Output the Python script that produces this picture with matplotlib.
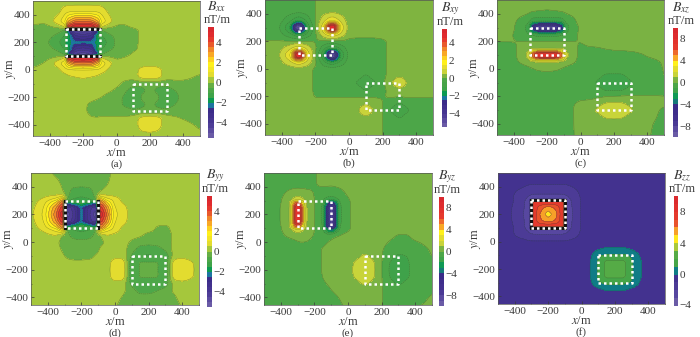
import matplotlib
matplotlib.use("Agg")
import matplotlib.pyplot as plt
import numpy as np

plt.rcParams["font.family"] = ["Liberation Serif", "DejaVu Serif"]
plt.rcParams["mathtext.fontset"] = "stix"

# grid nodes in metres (closer together at the source edges)
x_nodes = [-500, -425, -350, -310, -290, -250, -200, -150, -110, -90, -50, 0, 50, 100, 150, 200, 250, 300, 350, 400, 500]
y_nodes = [500, 425, 350, 310, 290, 250, 200, 150, 110, 90, 50, 0, -50, -100, -150, -200, -250, -300, -350, -400, -500]

bxx = [
    [.2, .2, .2, .2, .2, .2, .2, .2, .2, .2, .2, .2, .2, .2, .2, .2, .2, .2, .2, .2, .2],
    [.2, .2, .3, .8, .9, .95, .95, .95, .9, .8, .4, .2, .2, .2, .2, .2, .2, .2, .2, .2, .2],
    [.2, .1, .8, 1.5, 2.5, 3.4, 3.5, 3.4, 2.5, 1.5, .8, .15, .1, .2, .2, .2, .2, .2, .2, .2, .2],
    [-.2, -.2, .1, .4, 4.5, 5.3, 5.4, 5.3, 4.5, .4, .1, -.1, -.1, .1, .2, .2, .2, .2, .2, .2, .2],
    [-.3, -.3, -.3, -.5, -3, -4.8, -5, -4.8, -3, -.5, -.3, -.3, -.3, -.2, .1, .2, .2, .2, .2, .2, .2],
    [-.3, -.3, -.6, -1, -1.6, -3.5, -3.8, -3.5, -1.6, -1, -.6, -.4, -.3, -.2, .1, .2, .2, .2, .2, .2, .2],
    [-.3, -.4, -.9, -1.5, -1.8, -2.3, -2.4, -2.3, -1.8, -1.5, -.9, -.4, -.3, -.15, .1, .2, .2, .2, .2, .2, .2],
    [-.3, -.3, -.6, -1, -1.6, -3.5, -3.8, -3.5, -1.6, -1, -.6, -.4, -.3, -.1, .1, .2, .2, .2, .2, .2, .2],
    [-.3, -.3, -.3, -.5, -3, -4.8, -5, -4.8, -3, -.5, -.3, -.3, -.2, .1, .2, .2, .2, .2, .2, .2, .2],
    [-.3, -.2, .1, .4, 4.5, 5.3, 5.4, 5.3, 4.5, .4, .1, -.1, .05, .2, .2, .2, .2, .2, .2, .2, .2],
    [-.2, .05, .8, 1.5, 2.5, 3.4, 3.5, 3.4, 2.5, 1.5, .8, .15, .2, .2, .2, .2, .2, .2, .2, .2, .2],
    [.1, .2, .3, .8, .9, .95, .95, .95, .9, .8, .4, .2, .2, .2, .7, .85, .7, .2, .2, .2, .2],
    [.2, .2, .2, .2, .4, .5, .6, .5, .4, .2, .2, .2, .2, .2, .75, .9, .75, .2, .2, .2, -.1],
    [.2, .2, .2, .2, .2, .2, .2, .2, .2, .2, .2, .15, -.15, -.3, -.4, -.4, -.4, -.3, -.2, -.2, -.3],
    [.2, .2, .2, .2, .2, .2, .2, .2, .2, .2, .1, -.1, -.4, -.8, -.6, -.4, -.6, -.8, -.5, -.3, -.3],
    [.2, .2, .2, .2, .2, .2, .2, .15, .05, 0, -.2, -.3, -.6, -1.1, -.4, -.4, -.4, -1.1, -.7, -.3, -.3],
    [.2, .2, .2, .2, .2, .2, .1, -.1, -.2, -.25, -.3, -.3, -.6, -.8, -.6, -.4, -.6, -.8, -.5, -.3, -.3],
    [.2, .2, .2, .2, .2, .2, .15, -.2, -.3, -.3, -.3, -.3, -.3, -.4, -.4, -.4, -.4, -.3, -.3, -.3, -.3],
    [.2, .2, .2, .2, .2, .2, .2, .05, .05, .1, .1, .1, .1, .2, .7, .9, .7, .2, .1, -.05, -.3],
    [.2, .2, .2, .2, .2, .2, .2, .2, .2, .2, .2, .2, .2, .2, .75, .85, .7, .2, .2, .2, -.1],
    [.2, .2, .2, .2, .2, .2, .2, .2, .2, .2, .2, .2, .2, .2, .2, .2, .2, .2, .2, .2, .2],
]

bxy = [
    [-.2, -.2, -.2, -.2, -.2, -.2, 0, .2, .2, .2, .2, .2, .2, .2, .2, .2, .2, .2, .2, .2, .2],
    [-.2, -.2, -.2, -.2, -.2, -.2, 0, .2, .2, .2, .2, .2, .2, .2, .2, .2, .2, .2, .2, .2, .2],
    [-.2, -.2, -.9, -1.5, -1.5, -.9, 0, .9, 1.5, 1.5, .9, .2, .2, .2, .2, .2, .2, .2, .2, .2, .2],
    [-.2, -.3, -1.5, -5, -5, -1.5, 0, 1.5, 5, 5, 1.5, .2, .2, .2, .2, .2, .2, .2, .2, .2, .2],
    [-.2, -.3, -1.5, -5, -5, -1.5, 0, 1.5, 5, 5, 1.5, .2, .2, .2, .2, .2, .2, .2, .2, .2, .2],
    [-.2, -.2, -.9, -1.5, -1.5, -.9, -.1, .9, 1.5, 1.5, .9, .2, .2, .2, .2, .2, .2, .2, .2, .2, .2],
    [.03, .03, .03, .03, .03, .03, -.05, -.1, -.1, -.1, -.1, -.15, -.2, -.2, -.2, -.1, .1, .2, .2, .2, .2],
    [.2, .2, .9, 1.5, 1.5, .9, .1, -.9, -1.5, -1.5, -.9, -.2, -.2, -.2, -.2, -.15, .2, .2, .2, .2, .2],
    [.2, .3, 1.5, 5, 5, 1.5, 0, -1.5, -5, -5, -1.5, -.3, -.2, -.2, -.2, -.15, .2, .2, .2, .2, .2],
    [.2, .3, 1.5, 5, 5, 1.5, 0, -1.5, -5, -5, -1.5, -.3, -.2, -.2, -.2, -.15, .2, .2, .2, .2, .2],
    [.2, .2, .9, 1.5, 1.5, .9, .1, -.9, -1.5, -1.5, -.9, -.2, -.2, -.2, -.2, -.15, .2, .2, .2, .2, .2],
    [.2, .2, .2, .2, .2, .2, -.1, -.2, -.2, -.2, -.2, -.2, -.2, -.2, -.2, -.15, .2, .2, .2, .2, .2],
    [.2, .2, .2, .2, .2, .2, -.1, -.2, -.2, -.2, -.2, -.2, -.2, -.6, -.2, -.15, .2, .4, .2, .2, .2],
    [.2, .2, .2, .2, .2, .2, -.1, -.2, -.2, -.2, -.2, -.2, -.6, -1, -.6, -.1, .4, 1.1, .4, .2, .2],
    [.2, .2, .2, .2, .2, .2, -.1, -.2, -.2, -.2, -.2, -.2, -.2, -.6, -.2, -.15, .2, .4, .2, .2, .2],
    [.2, .2, .2, .2, .2, .2, -.05, -.05, -.05, -.05, -.05, -.05, -.05, -.05, -.05, -.02, .05, .05, .05, .05, .05],
    [.2, .2, .2, .2, .2, .2, .2, .2, .2, .2, .2, .2, .2, .4, .2, 0, -.2, -.6, -.2, -.2, -.2],
    [.2, .2, .2, .2, .2, .2, .2, .2, .2, .2, .2, .2, .4, 1.1, .4, 0, -.6, -1, -.6, -.2, -.2],
    [.2, .2, .2, .2, .2, .2, .2, .2, .2, .2, .2, .2, .2, .4, .2, 0, -.2, -.6, -.2, -.2, -.2],
    [.2, .2, .2, .2, .2, .2, .2, .2, .2, .2, .2, .2, .2, .2, .2, 0, -.2, -.2, -.2, -.2, -.2],
    [.2, .2, .2, .2, .2, .2, .2, .2, .2, .2, .2, .2, .2, .2, .2, 0, -.2, -.2, -.2, -.2, -.2],
]

bxz = [
    [.5, .5, .5, .5, .5, .5, .5, .5, .5, .5, .5, .5, .5, .5, .5, .5, .5, .5, .5, .5, .5],
    [.5, .5, .5, .3, .2, .1, 0, .1, .2, .3, .5, .5, .5, .5, .5, .5, .5, .5, .5, .5, .5],
    [.5, .5, -.4, -.7, -1.5, -1.5, -1.5, -1.5, -1.5, -.8, -.4, .5, .5, .5, .5, .5, .5, .5, .5, .5, .5],
    [.5, .4, -.6, -1.5, -5, -8, -8, -8, -5, -1.5, -.6, .2, .5, .5, .5, .5, .5, .5, .5, .5, .5],
    [.5, .4, -.6, -1.5, -5, -8, -8, -8, -5, -1.5, -.6, .2, .5, .5, .5, .5, .5, .5, .5, .5, .5],
    [.4, .2, -.6, -1, -1.2, -1.5, -1.5, -1.5, -1.2, -1, -.6, .3, .5, .5, .5, .5, .5, .5, .5, .5, .5],
    [.05, .05, 0, -.02, -.02, -.02, -.02, -.02, -.02, -.02, 0, .02, .3, .5, .5, .5, .5, .5, .5, .5, .5],
    [-.5, -.4, .3, .6, .7, .8, .8, .8, .7, .6, .4, -.2, -.1, -.1, .1, .3, .4, .5, .5, .5, .5],
    [-.5, -.5, .4, 1.5, 5, 8, 8, 8, 5, 1.5, .5, -.3, -.5, -.5, -.5, -.5, -.5, -.4, -.1, .05, .3],
    [-.5, -.5, .4, 1.5, 5, 8, 8, 8, 5, 1.5, .5, -.3, -.5, -.5, -.5, -.5, -.5, -.4, -.1, .05, .3],
    [-.5, -.5, .2, .6, .8, .9, .9, .9, .8, .6, .2, -.3, -.5, -.5, -.5, -.5, -.5, -.5, -.5, -.4, .1],
    [-.5, -.5, -.5, -.3, -.1, .2, .3, .2, -.1, -.3, -.5, -.5, -.5, -.5, -.5, -.5, -.5, -.5, -.5, -.5, .05],
    [-.5, -.5, -.5, -.5, -.5, -.5, -.5, -.5, -.5, -.5, -.5, -.5, -.5, -.6, -1.2, -1.2, -1.2, -.6, -.5, -.5, .02],
    [-.5, -.5, -.5, -.5, -.5, -.5, -.5, -.5, -.5, -.5, -.5, -.5, -.5, -1.2, -1.8, -1.8, -1.8, -1.2, -.5, -.5, -.5],
    [-.5, -.5, -.5, -.5, -.5, -.5, -.5, -.5, -.5, -.5, -.5, -.5, -.5, -.6, -1.2, -1.2, -1.2, -.6, -.5, -.5, -.5],
    [-.5, -.5, -.5, -.5, -.5, -.5, -.5, -.5, -.5, -.5, -.5, -.3, -.4, -.2, -.05, .05, .1, .1, .1, .1, .05],
    [-.5, -.5, -.5, -.5, -.5, -.5, -.5, -.5, -.5, -.5, -.1, .2, .4, .6, 1.1, 1.2, 1.1, .7, .5, .5, .2],
    [-.5, -.5, -.5, -.5, -.5, -.5, -.5, -.5, -.5, -.5, -.05, .4, .6, 1.2, 1.8, 1.8, 1.8, 1.2, .6, .5, -.2],
    [-.5, -.5, -.5, -.5, -.5, -.5, -.5, -.5, -.5, -.5, -.1, .4, .5, .6, 1.1, 1.2, 1.1, .6, .5, .4, -.3],
    [-.5, -.5, -.5, -.5, -.5, -.5, -.5, -.5, -.5, -.5, -.1, .4, .5, .5, .5, .5, .5, .5, .5, .2, -.4],
    [-.5, -.5, -.5, -.5, -.5, -.5, -.5, -.5, -.5, -.5, -.1, .3, .5, .5, .5, .5, .5, .5, .5, .1, -.5],
]

byy = [
    [.2, .2, -.1, -.3, -.3, -.3, -.3, -.3, -.3, -.3, -.2, .2, .2, .2, .2, .2, .2, .2, .2, .2, .2],
    [.2, .2, .15, -.1, -.3, -.3, -.3, -.3, -.3, -.3, -.05, .2, .2, .2, .2, .2, .2, .2, .2, .2, .2],
    [.2, .2, .2, .1, -.2, -.8, -.9, -.8, -.2, .1, .2, .2, .2, .2, .2, .2, .2, .2, .2, .2, .2],
    [.2, .6, 1.3, 2.5, -.4, -1, -1.1, -1, -.4, 2.5, 1.3, .8, .3, .2, .2, .2, .2, .2, .2, .2, .2],
    [.2, .8, 2, 3.5, -2.2, -1.5, -1.2, -1.5, -2.2, 3.5, 2, .8, .4, .2, .2, .2, .2, .2, .2, .2, .2],
    [.3, 1, 3, 4.5, -4.5, -3.8, -2.4, -3.8, -4.5, 4.5, 3, 1, .7, .2, .2, .2, .2, .2, .2, .2, .2],
    [.4, 1.1, 3.5, 5.3, -5, -4, -2.3, -4, -5, 5.3, 3.5, 1.1, .8, .2, .2, .2, .2, .2, .2, .2, .2],
    [.3, 1, 3, 4.5, -4.5, -3.8, -2.4, -3.8, -4.5, 4.5, 3, 1, .7, .2, .2, .2, .2, .2, .2, .2, .2],
    [.2, .8, 2, 3.5, -2.2, -1.5, -1.2, -1.5, -2.2, 3.5, 2, .8, .4, .2, .2, .2, -.05, -.1, .1, .2, .2],
    [.2, .6, 1.3, 2.5, -.4, -1, -1.1, -1, -.4, 2.5, 1.3, .8, .3, .2, .2, .2, -.05, -.1, .1, .2, .2],
    [.2, .3, .5, -.1, -.3, -.7, -.9, -.7, -.3, -.1, .5, .3, .2, .2, .1, -.2, -.3, -.3, .1, .2, .2],
    [.2, .2, .1, -.2, -.3, -.3, -.3, -.3, -.3, -.2, .1, .2, .2, -.1, -.3, -.3, -.3, -.2, .1, .2, .2],
    [.2, .2, .2, -.1, -.3, -.3, -.3, -.3, -.3, .1, .2, .2, .2, -.3, -.7, -.8, -.7, -.4, .15, .2, .2],
    [.2, .2, .2, .1, -.1, -.3, -.3, -.2, .1, .2, .2, .3, .3, -.6, -1, -1.1, -1, -.9, .2, .3, .2],
    [.2, .2, .2, .2, .2, .2, .2, .2, .2, .2, .2, .85, .8, -1, -.4, -.4, -.4, -1, .8, .9, .3],
    [.2, .2, .2, .2, .2, .2, .2, .2, .2, .2, .2, .95, .9, -1.1, -.4, -.4, -.4, -1.1, .9, .98, .3],
    [.2, .2, .2, .2, .2, .2, .2, .2, .2, .2, .2, .85, .8, -1, -.4, -.4, -.4, -1, .8, .9, .3],
    [.2, .2, .2, .2, .2, .2, .2, .2, .2, .2, .2, .3, .2, -.7, -1, -1.1, -1, -.8, .15, .3, .2],
    [.2, .2, .2, .2, .2, .2, .2, .2, .2, .2, .2, .2, .1, -.3, -.7, -.7, -.5, -.3, .1, .2, .2],
    [.2, .2, .2, .2, .2, .2, .2, .2, .2, .2, .2, .15, -.05, -.3, -.3, -.3, -.3, -.3, -.1, .2, .2],
    [.2, .2, .2, .2, .2, .2, .2, .2, .2, .2, .2, 0, -.3, -.3, -.3, -.3, -.3, -.3, -.3, -.05, .2],
]

byz = [
    [-.5, -.5, -.5, -.5, -.5, -.5, -.1, .3, .5, .5, .5, .5, .5, .5, .5, .5, .5, .5, .5, .5, .5],
    [-.5, -.5, -.5, -.5, -.5, -.5, -.1, .3, .2, .2, .4, .5, .5, .5, .5, .5, .5, .5, .5, .5, .5],
    [-.5, -.5, .3, .6, .6, .4, -.05, -.6, -.6, -.6, -.5, .2, .5, .5, .5, .5, .5, .5, .5, .5, .5],
    [-.5, -.4, .6, 1.5, 1.5, .8, 0, -.9, -1.5, -1.5, -.9, -.1, .5, .5, .5, .5, .5, .5, .5, .5, .5],
    [-.5, -.4, .7, 5, 5, .9, 0, -1, -5, -5, -1, -.2, .5, .5, .5, .5, .5, .5, .5, .5, .5],
    [-.5, -.3, .8, 8, 8, 1.2, 0, -1.3, -8, -8, -1.3, -.2, .5, .5, .5, .5, .5, .5, .5, .5, .5],
    [-.5, -.3, .8, 8, 8, 1.2, 0, -1.3, -8, -8, -1.3, -.2, .5, .5, .5, .5, .5, .5, .5, .5, .5],
    [-.5, -.3, .8, 8, 8, 1.2, 0, -1.3, -8, -8, -1.3, -.2, .5, .5, .5, .5, .5, .5, .5, .5, .5],
    [-.5, -.4, .7, 5, 5, .9, 0, -1, -8, -8, -1, -.2, .5, .5, .5, .5, .5, .5, .5, .5, .5],
    [-.5, -.4, .6, 1.5, 1.5, .8, 0, -.9, -4, -4, -.9, -.2, .5, .5, .5, .5, .5, .5, .5, .5, .5],
    [-.5, -.5, .3, .6, .6, .4, -.05, -.6, -.6, -.3, 0, .4, .5, .5, .5, .5, .3, -.1, -.1, .4, .5],
    [-.5, -.5, -.5, -.2, 0, 0, -.3, -.3, .1, .3, .5, .5, .5, .5, .5, .3, -.1, -.4, -.4, -.1, .3],
    [-.5, -.5, -.5, -.5, -.5, -.5, -.5, .1, .4, .5, .5, .5, .5, .6, .5, .1, -.4, -.5, -.5, -.4, .1],
    [-.5, -.5, -.5, -.5, -.5, -.5, -.5, .1, .3, .5, .5, .5, .7, 1.2, .7, .05, -.6, -1.2, -1, -.5, .02],
    [-.5, -.5, -.5, -.5, -.5, -.5, -.5, .1, .3, .5, .5, .6, 1.2, 1.7, 1.2, .05, -1.1, -1.8, -1.2, -.5, -.1],
    [-.5, -.5, -.5, -.5, -.5, -.5, -.5, .1, .3, .5, .5, .7, 1.3, 1.8, 1.3, .05, -1.2, -1.8, -1.3, -.5, -.3],
    [-.5, -.5, -.5, -.5, -.5, -.5, -.5, .05, .2, .4, .5, .6, 1.2, 1.7, 1.2, .05, -1.1, -1.8, -1.2, -.5, -.3],
    [-.5, -.5, -.5, -.5, -.5, -.5, -.5, -.1, .1, .3, .5, .5, .7, 1.2, .7, .05, -.6, -1.2, -.7, -.5, -.3],
    [-.5, -.5, -.5, -.5, -.5, -.5, -.5, -.4, -.1, .05, .4, .5, .5, .5, .5, .05, -.5, -.5, -.5, -.5, -.1],
    [-.5, -.5, -.5, -.5, -.5, -.5, -.5, -.5, -.4, -.3, .05, .4, .5, .5, .5, .05, -.5, -.5, -.5, -.4, .1],
    [-.5, -.5, -.5, -.5, -.5, -.5, -.5, -.5, -.5, -.5, -.3, .1, .4, .5, .5, .05, -.5, -.5, -.5, .1, .3],
]

bzz = [
    [-.5, -.5, -.5, -.5, -.5, -.5, -.5, -.5, -.5, -.5, -.5, -.5, -.5, -.5, -.5, -.5, -.5, -.5, -.5, -.5, -.5],
    [-.5, -.5, -.7, -.9, -.9, -.9, -.9, -.9, -.9, -.9, -.7, -.5, -.5, -.5, -.5, -.5, -.5, -.5, -.5, -.5, -.5],
    [-.5, -.8, -1.5, -1.8, -1.9, -1.9, -1.9, -1.9, -1.9, -1.8, -1.5, -.8, -.5, -.5, -.5, -.5, -.5, -.5, -.5, -.5, -.5],
    [-.5, -.8, -1.7, -2.4, -2.8, -3, -3, -3, -2.8, -2.4, -1.7, -.9, -.5, -.5, -.5, -.5, -.5, -.5, -.5, -.5, -.5],
    [-.5, -.8, -1.7, -3, 8, 8, 8, 8, 8, -3, -1.7, -.9, -.5, -.5, -.5, -.5, -.5, -.5, -.5, -.5, -.5],
    [-.5, -.9, -1.8, -3, 8, 6.5, 5.6, 6.3, 8, -3, -1.8, -.9, -.5, -.5, -.5, -.5, -.5, -.5, -.5, -.5, -.5],
    [-.5, -.9, -1.9, -3.2, 8, 6, 4.4, 5.8, 8, -3.2, -1.9, -.9, -.5, -.5, -.5, -.5, -.5, -.5, -.5, -.5, -.5],
    [-.5, -.9, -1.8, -3, 8, 6.2, 5.6, 6.2, 8, -3, -1.8, -.9, -.5, -.5, -.5, -.5, -.5, -.5, -.5, -.5, -.5],
    [-.5, -.8, -1.7, -3, 8, 8, 8, 8, 8, -3, -1.7, -.9, -.5, -.5, -.5, -.5, -.5, -.5, -.5, -.5, -.5],
    [-.5, -.8, -1.7, -2.4, -2.8, -3, -3, -3, -2.8, -2.4, -1.7, -.9, -.5, -.5, -.5, -.5, -.5, -.5, -.5, -.5, -.5],
    [-.5, -.8, -1.5, -1.8, -1.9, -1.9, -1.9, -1.9, -1.9, -1.8, -1.5, -.8, -.5, -.5, -.5, -.5, -.5, -.5, -.5, -.5, -.5],
    [-.5, -.5, -.7, -.9, -.9, -.9, -.9, -.9, -.9, -.9, -.7, -.5, -.5, -.5, -.5, -.5, -.5, -.5, -.5, -.5, -.5],
    [-.5, -.5, -.5, -.5, -.5, -.5, -.5, -.5, -.5, -.5, -.5, -.5, -.5, -.2, .1, .1, .1, -.2, -.5, -.5, -.5],
    [-.5, -.5, -.5, -.5, -.5, -.5, -.5, -.5, -.5, -.5, -.5, -.5, -.3, .8, 1.2, 1.2, 1.2, .8, -.1, -.5, -.5],
    [-.5, -.5, -.5, -.5, -.5, -.5, -.5, -.5, -.5, -.5, -.5, -.5, -.1, 1.2, 2.3, 2.3, 2.3, 1.2, .1, -.5, -.5],
    [-.5, -.5, -.5, -.5, -.5, -.5, -.5, -.5, -.5, -.5, -.5, -.5, -.1, 1.2, 2.3, 2.3, 2.3, 1.2, .1, -.5, -.5],
    [-.5, -.5, -.5, -.5, -.5, -.5, -.5, -.5, -.5, -.5, -.5, -.5, -.1, 1.2, 2.3, 2.3, 2.3, 1.2, .1, -.5, -.5],
    [-.5, -.5, -.5, -.5, -.5, -.5, -.5, -.5, -.5, -.5, -.5, -.5, -.3, .9, 1.3, 1.3, 1.3, .9, -.1, -.5, -.5],
    [-.5, -.5, -.5, -.5, -.5, -.5, -.5, -.5, -.5, -.5, -.5, -.5, -.5, -.3, .1, .1, .1, -.3, -.5, -.5, -.5],
    [-.5, -.5, -.5, -.5, -.5, -.5, -.5, -.5, -.5, -.5, -.5, -.5, -.5, -.5, -.5, -.5, -.5, -.5, -.5, -.5, -.5],
    [-.5, -.5, -.5, -.5, -.5, -.5, -.5, -.5, -.5, -.5, -.5, -.5, -.5, -.5, -.5, -.5, -.5, -.5, -.5, -.5, -.5],
]

# band edges and fills
levels_half = [-5.5 + 0.5 * i for i in range(23)]
levels_one = [-10 + i for i in range(21)]
levels_f = [-4.2, -3, -2, -1, 0, 1, 2, 3, 4, 5, 6, 7, 8, 9, 10.3]
colors_ad = ["#6a5ba6", "#5b4b9f", "#4e3d97", "#463591", "#41308d", "#3b2c89", "#1c76a0", "#0c9a52", "#3ea349", "#4da749", "#66ae45",
             "#a5c73c", "#e3dc2f", "#f3e526", "#fff01c", "#fdd020", "#f9a826", "#f0862a", "#e9592c", "#e5392d", "#e02b2e", "#d9282e"]
colors_b = ["#6a5ba6", "#5b4b9f", "#4e3d97", "#463591", "#41308d", "#3b2c89", "#1c76a0", "#0c9a52", "#3ea349", "#46a348", "#4ca648",
            "#7fb440", "#c9d33a", "#e7dd2f", "#fff01c", "#fdd020", "#f9a826", "#f0862a", "#e9592c", "#e5392d", "#e02b2e", "#d9282e"]
colors_ce = ["#6a5ba6", "#5a4a9f", "#4a3995", "#42318e", "#3e2e8b", "#3a2b88", "#157a78", "#0f9a55", "#3fa24a", "#4ca648",
             "#7ab243", "#c8d43a", "#e3dc2f", "#fff01c", "#f9a826", "#ee6a2b", "#e5392d", "#e2322d", "#de2c2e", "#d9282e"]
colors_f = ["#6a5ba6", "#5747a0", "#4c3b96", "#43328f", "#0f7c86", "#46a548", "#55ab46", "#a9c83c", "#ffe81c", "#f7a028",
            "#e9532c", "#e53a2d", "#e1302d", "#db2a2e"]

panel_names = ["(a)", "(b)", "(c)", "(d)", "(e)", "(f)"]
panel_titles = [r"$B_{xx}$", r"$B_{xy}$", r"$B_{xz}$", r"$B_{yy}$", r"$B_{yz}$", r"$B_{zz}$"]
panel_fields = [bxx, bxy, bxz, byy, byz, bzz]
panel_levels = [levels_half, levels_half, levels_one, levels_half, levels_one, levels_f]
panel_colors = [colors_ad, colors_b, colors_ce, colors_ad, colors_ce, colors_f]
bar_ticks = [[-4, -2, 0, 2, 4], [-4, -2, 0, 2, 4], [-8, -4, 0, 4, 8], [-4, -2, 0, 2, 4], [-8, -4, 0, 4, 8], [-4, 0, 4, 8]]
# left, top, right, bottom in pixels
axes_px = [(33, 1, 200, 136), (265, 0, 433, 135), (497, 0, 664, 135), (31, 173, 199, 305), (264, 173, 432, 305), (498, 173, 665, 304)]
bars_px = [(208, 27, 214, 138), (442, 29, 447, 127), (673, 28, 678, 137), (207, 196, 212, 307), (439, 197, 444, 306), (674, 196, 678, 306)]
y_bottoms = [-480, -480, -480, -455, -455, -455]
# which source edges look black from the crowded contours: 0 none, 1 top/bottom, 2 sides, 3 all
dark_edges = [1, 0, 0, 2, 0, 3]
box_x = [-300, -100, -100, -300, -300]
box_y = [300, 300, 100, 100, 300]
box2_x = [100, 300, 300, 100, 100]
box2_y = [-100, -100, -300, -300, -100]
TEXT = "#3a3a3a"
W, H = 700, 337


def px_rect(l, t, r, b):
    return [l / W, 1 - b / H, (r - l) / W, (b - t) / H]


def soften(z, kernel):
    for axis in (0, 1):
        n = len(kernel) // 2
        padded = np.pad(z, [(n, n) if a == axis else (0, 0) for a in (0, 1)], mode="edge")
        z = np.apply_along_axis(lambda v: np.convolve(v, kernel, mode="valid"), axis, padded)
    return z


def smooth_field(field):
    # fine grid from the read values; weak background gets rounder than the steep sources
    xf = np.arange(-500, 501, 5.0)
    yf = np.arange(-500, 501, 5.0)
    z = np.array(field, dtype=float)[::-1]
    ys = np.array(y_nodes, dtype=float)[::-1]
    xs = np.array(x_nodes, dtype=float)
    z = np.array([np.interp(xf, xs, row) for row in z])
    z = np.array([np.interp(yf, ys, col) for col in z.T]).T
    low = np.clip(z, -1.2, 1.2)
    wide = np.array([1, 3, 7, 12, 17, 20, 17, 12, 7, 3, 1], dtype=float)
    wide /= wide.sum()
    return xf, yf, soften(low, wide) + soften(z - low, np.array([0.25, 0.5, 0.25]))


fig = plt.figure(figsize=(W / 100, H / 100), dpi=100)

for i in range(6):
    ax = fig.add_axes(px_rect(*axes_px[i]))
    xf, yf, z = smooth_field(panel_fields[i])
    cf = ax.contourf(xf, yf, z, levels=panel_levels[i], colors=panel_colors[i], extend="neither")
    ax.contour(xf, yf, z, levels=panel_levels[i], colors="#2c4a2c", linewidths=0.3, alpha=0.6)
    if dark_edges[i] in (1, 3):
        ax.plot(box_x[:2], box_y[:2], color="#111111", lw=2.2)
        ax.plot(box_x[2:4], box_y[2:4], color="#111111", lw=2.2)
    if dark_edges[i] in (2, 3):
        ax.plot(box_x[1:3], box_y[1:3], color="#111111", lw=2.2)
        ax.plot(box_x[3:5], box_y[3:5], color="#111111", lw=2.2)
    ax.plot(box_x, box_y, color="white", lw=1.8, ls=(0, (1, 1.2)))
    ax.plot(box2_x, box2_y, color="white", lw=1.8, ls=(0, (1, 1.2)))
    ax.set_xlim(-500, 500)
    ax.set_ylim(y_bottoms[i], 500)
    ax.set_xticks([-400, -200, 0, 200, 400])
    ax.set_yticks([-400, -200, 0, 200, 400])
    ax.set_xticks(range(-500, 501, 100), minor=True)
    ax.set_yticks(range(-400, 401, 100), minor=True)
    ax.tick_params(which="major", direction="in", length=2, width=0.5, labelsize=8, colors=TEXT, pad=2)
    ax.tick_params(which="minor", direction="in", length=1, width=0.4, colors=TEXT)
    for s in ax.spines.values():
        s.set_linewidth(0.5)
        s.set_color("#555555")
    l, t, r, b = axes_px[i]
    ax.set_xlabel(r"$x$/m", fontsize=9, color=TEXT, labelpad=-0.5)
    ax.set_ylabel(r"$y$/m", fontsize=9, color=TEXT)
    ax.yaxis.set_label_coords(-15 / (r - l), 0.5)

    cax = fig.add_axes(px_rect(*bars_px[i]))
    cb = fig.colorbar(cf, cax=cax, ticks=bar_ticks[i])
    cb.outline.set_visible(False)
    cb.ax.tick_params(length=0, labelsize=8, colors=TEXT, pad=1)

    bl, bt, br, bb = bars_px[i]
    cx = (bl + br) / 2 + 6
    fig.text(cx / W, 1 - (bt - 20) / H, panel_titles[i], ha="center", va="center", fontsize=10, color=TEXT)
    fig.text(cx / W, 1 - (bt - 7) / H, "nT/m", ha="center", va="center", fontsize=9, color=TEXT)
    fig.text((l + r) / 2 / W, 1 - (b + 28) / H, panel_names[i], ha="center", va="center", fontsize=8, color=TEXT)

fig.savefig("out.png", dpi=100)
